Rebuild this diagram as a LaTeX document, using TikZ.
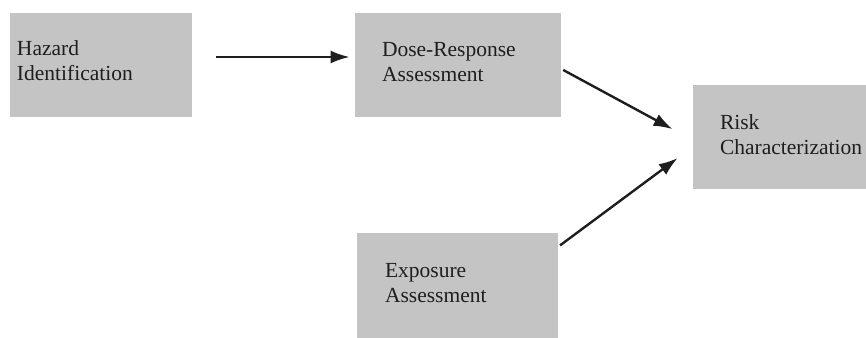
\documentclass[tikz,border=0pt]{standalone}
\usepackage{fontspec}
\setmainfont{Liberation Serif}
\usetikzlibrary{arrows.meta,calc}
\definecolor{boxGray}{RGB}{196,196,196}
\definecolor{inkBlack}{RGB}{30,30,30}
\tikzset{
  stage/.style={fill=boxGray, inner sep=0pt, minimum height=52pt},
  stagetext/.style={anchor=west, inner sep=0pt, align=left, text=inkBlack, font=\fontsize{10.75}{12.5}\selectfont},
  arrow/.style={-{Latex[length=9.5pt,width=6.5pt]}, line width=1.2pt, draw=inkBlack}
}
\begin{document}
\begin{tikzpicture}[x=0.5pt,y=-0.5pt]
  \useasboundingbox (0,0) rectangle (866,337);
  \node[stage, minimum width=91pt] (haz) at (101,65) {};
  \node[stage, minimum width=103pt] (dose) at (458,65) {};
  \node[stage, minimum width=87pt] (risk) at (780,137) {};
  \node[stage, minimum width=100.5pt, minimum height=52.5pt] (expo) at (457.5,285.5) {};

  \node[stagetext] (hazT) at ($(haz.west)+(7,-4)$) {Hazard\\Identification};
  \node[stagetext] (doseT) at ($(dose.west)+(27,-2.5)$) {Dose-Response\\Assessment};
  \node[stagetext] (riskT) at ($(risk.west)+(27,-2.5)$) {Risk\\Characterization};
  \node[stagetext] (expoT) at ($(expo.west)+(28,-2.5)$) {Exposure\\Assessment};

  \draw[arrow, shorten <=12pt, shorten >=2.5pt] ($(haz.east)+(0,-8)$) -- ($(dose.west)+(0,-8)$);
  \draw[arrow, shorten <=1pt, shorten >=11.4pt] ($(dose.east)+(0,4)$) -- ($(risk.west)+(0,3)$);
  \draw[arrow, shorten <=1pt, shorten >=9.3pt] ($(expo.north east)+(0,14)$) -- ($(risk.west)+(0,10)$);
\end{tikzpicture}
\end{document}
